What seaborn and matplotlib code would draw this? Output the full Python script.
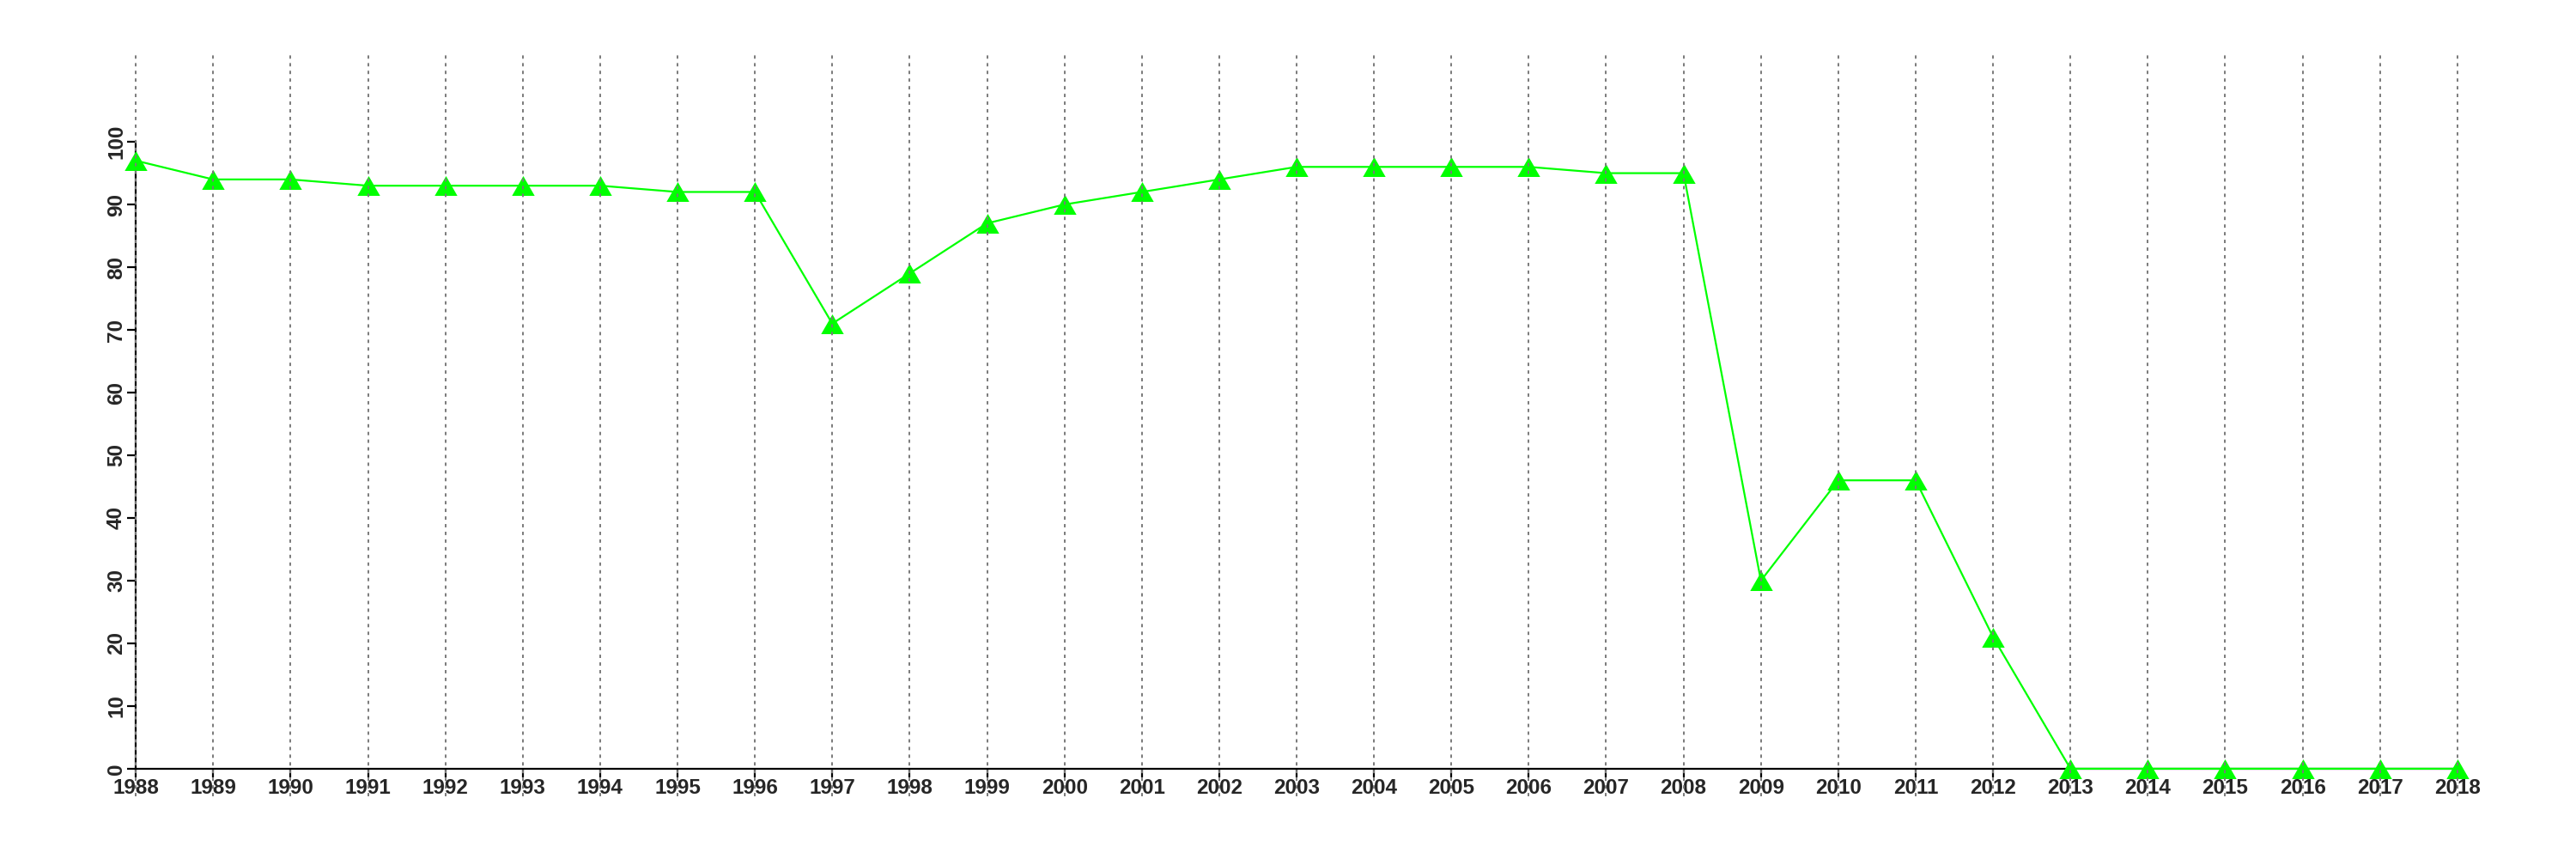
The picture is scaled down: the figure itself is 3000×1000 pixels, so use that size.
import matplotlib
matplotlib.use("Agg")
import matplotlib.pyplot as plt
import seaborn as sns
import pandas as pd

years = list(range(1988, 2019))
values = [97, 94, 94, 93, 93, 93, 93, 92, 92, 71, 79, 87, 90, 92, 94, 96, 96, 96, 96, 95, 95,
          30, 46, 46, 21, 0, 0, 0, 0, 0, 0]
y_ticks = [0, 10, 20, 30, 40, 50, 60, 70, 80, 90, 100]

sns.set_theme(style="white")
plt.rcParams['font.family'] = ['Liberation Sans', 'DejaVu Sans']

df = pd.DataFrame({"year": years, "value": values})

fig = plt.figure(figsize=(30, 10), dpi=100)
ax = fig.add_axes([50/3000, 1 - 927/1000, 2920/3000, 867/1000])

tri = [(0, 0.87), (-1, -0.87), (1, -0.87)]
sns.lineplot(data=df, x="year", y="value", ax=ax, color="#00FF00", linewidth=1.6,
             marker=tri, markersize=19, markeredgewidth=0, markerfacecolor="#00FF00",
             zorder=3)

ax.set_xlim(1988 - 1.2, 2018 + 1.2)
ax.set_ylim(-4.4, 114.4)

for side in ["top", "right"]:
    ax.spines[side].set_visible(False)
ax.spines["left"].set_bounds(0, 100)
ax.spines["bottom"].set_bounds(1988, 2018)
ax.spines["left"].set_position(("data", 1988))
ax.spines["bottom"].set_position(("data", 0))
for side in ["left", "bottom"]:
    ax.spines[side].set_linewidth(1.6)
    ax.spines[side].set_color("black")

ax.set_xticks(years)
ax.set_xticklabels([str(y) for y in years], fontsize=17.5, fontweight="bold")
ax.set_yticks(y_ticks)
ax.set_yticklabels([str(v) for v in y_ticks], fontsize=17.5, fontweight="bold",
                   rotation=90, va="center")
ax.tick_params(axis="both", direction="out", length=7, width=1.6, color="black",
               left=True, bottom=True, pad=1)
ax.set_xlabel("")
ax.set_ylabel("")

for y in years:
    ax.axvline(y, color="#7a7a7a", linestyle=(0, (2.0, 2.6)), linewidth=1.4, zorder=4,
               clip_on=True)

fig.savefig("out.png", dpi=100, facecolor="white")
